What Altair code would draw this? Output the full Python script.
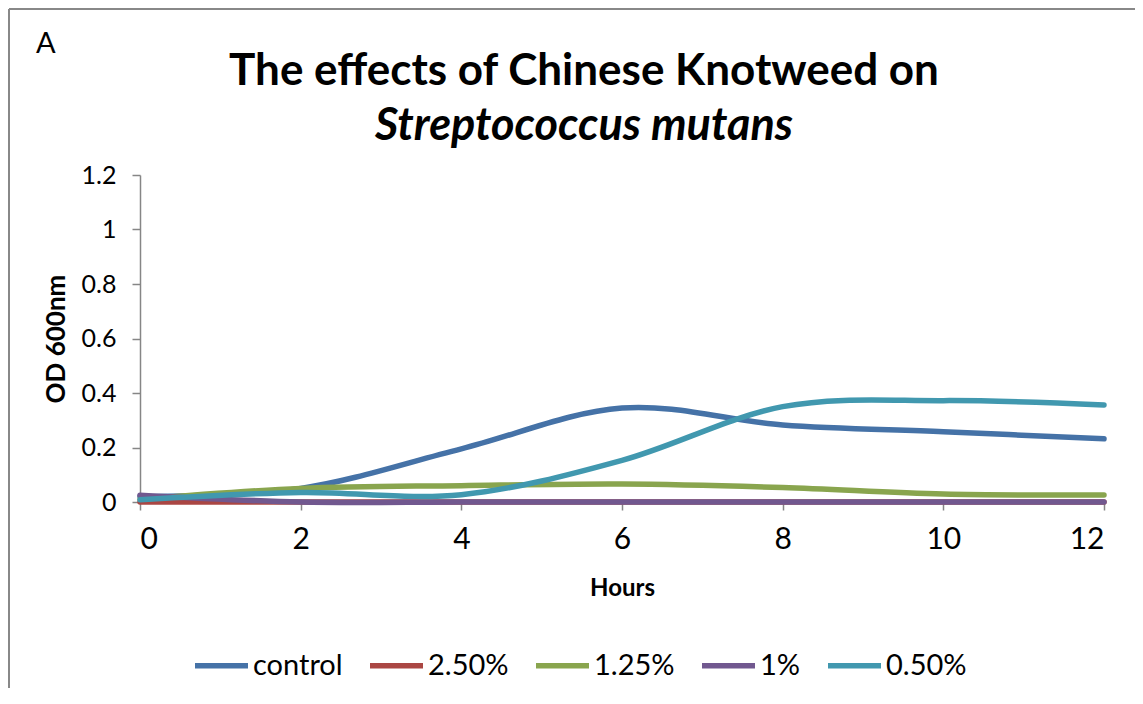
import altair as alt
import pandas as pd

hours = [0, 2, 4, 6, 8, 10, 12]
series_names = ["control", "2.50%", "1.25%", "1%", "0.50%"]
control = [0.02, 0.05, 0.195, 0.345, 0.283, 0.258, 0.232]
p250 = [0.0, 0.0, 0.0, 0.0, 0.0, 0.0, 0.0]
p125 = [0.01, 0.05, 0.06, 0.066, 0.053, 0.029, 0.026]
p100 = [0.025, 0.0, 0.0, 0.0, 0.0, 0.0, 0.0]
p050 = [0.008, 0.035, 0.027, 0.153, 0.35, 0.372, 0.356]
colors = ["#4572A7", "#AA4643", "#89A54E", "#71588F", "#4198AF"]
y_ticks = [0, 0.2, 0.4, 0.6, 0.8, 1.0, 1.2]
x_ticks = [0, 2, 4, 6, 8, 10, 12]
title_line1 = ["The effects of Chinese Knotweed on"]
title_line2 = ["Streptococcus mutans"]
panel_label = ["A"]

rows = []
for name, vals in zip(series_names, [control, p250, p125, p100, p050]):
    for h, v in zip(hours, vals):
        rows.append({"Hours": h, "OD": v, "Series": name})
df = pd.DataFrame(rows)

lines = alt.Chart(df).mark_line(interpolate="cardinal", strokeWidth=5.5, strokeCap="round").encode(
    x=alt.X("Hours:Q", scale=alt.Scale(domain=[0, 12], nice=False),
            axis=alt.Axis(values=x_ticks, title="Hours", format="d")),
    y=alt.Y("OD:Q", scale=alt.Scale(domain=[0, 1.2], nice=False),
            axis=alt.Axis(values=y_ticks, title="OD 600nm", format=".1~f")),
    color=alt.Color("Series:N", sort=series_names,
                    scale=alt.Scale(domain=series_names, range=colors),
                    legend=alt.Legend(title=None, orient="none", direction="horizontal",
                                      legendX=52, legendY=461,
                                      symbolType="stroke", symbolSize=2809,
                                      symbolStrokeWidth=5.5, labelFontSize=29,
                                      labelFont="Lato", labelColor="black",
                                      labelOffset=2, columnPadding=16)),
)

label_a = alt.Chart(pd.DataFrame({"t": panel_label})).mark_text(
    font="Lato", fontSize=29, color="black", align="left", baseline="alphabetic"
).encode(x=alt.value(-104), y=alt.value(-122), text="t:N")

t1 = alt.Chart(pd.DataFrame({"t": title_line1})).mark_text(
    font="Lato", fontSize=44, fontWeight="bold", color="black", align="center", baseline="alphabetic"
).encode(x=alt.value(444), y=alt.value(-90), text="t:N")

t2 = alt.Chart(pd.DataFrame({"t": title_line2})).mark_text(
    font="Lato", fontSize=45, fontWeight="bold", fontStyle="italic", color="black",
    align="center", baseline="alphabetic"
).encode(x=alt.value(444), y=alt.value(-35), text="t:N")

border_top = alt.Chart(pd.DataFrame({"t": [0]})).mark_rule(color="#888888", strokeWidth=2).encode(
    x=alt.value(-131), x2=alt.value(1003), y=alt.value(-166))
border_left = alt.Chart(pd.DataFrame({"t": [0]})).mark_rule(color="#888888", strokeWidth=2).encode(
    x=alt.value(-131), y=alt.value(-166), y2=alt.value(520))

chart = alt.layer(border_top, border_left, lines, label_a, t1, t2).properties(
    width=964, height=327,
    padding={"left": 132, "top": 167, "right": 31, "bottom": 186},
    autosize=alt.AutoSizeParams(type="none"),
).configure_view(stroke=None).configure_axis(
    grid=False, domainColor="#868686", tickColor="#868686", domainWidth=1.5,
    tickWidth=1.5, tickSize=8, labelColor="black", titleColor="black",
    labelFont="Lato", titleFont="Lato", titleFontWeight="bold",
).configure_axisX(
    labelFontSize=30, labelPadding=14, titleFontSize=24, titlePadding=22,
).configure_axisY(
    labelFontSize=25, labelPadding=16, titleFontSize=26, titlePadding=12,
)

chart.save("out.html", embed_options={"renderer": "svg", "actions": False})
